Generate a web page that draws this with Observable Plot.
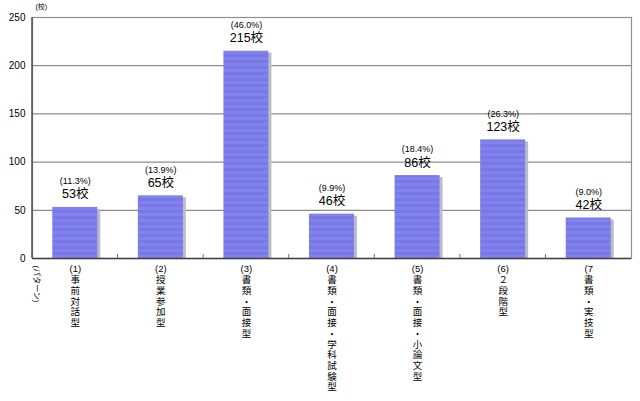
<!DOCTYPE html>
<html><head><meta charset="utf-8">
<script src="https://cdn.jsdelivr.net/npm/d3@7"></script>
<script src="https://cdn.jsdelivr.net/npm/@observablehq/plot@0.6"></script>
<style>
html,body{margin:0;padding:0;background:#fff;}
#chart{position:relative;width:640px;height:401px;}
</style>
</head><body><div id="chart"></div>
<script>
const ids = ["1","2","3","4","5","6","7"];
const headers = ["(1)","(2)","(3)","(4)","(5)","(6)","(7"];
const names = ["事前対話型","授業参加型","書類・面接型","書類・面接・学科試験型","書類・面接・小論文型","２段階型","書類・実技型"];
const counts = [53,65,215,46,86,123,42];
const percents = ["(11.3%)","(13.9%)","(46.0%)","(9.9%)","(18.4%)","(26.3%)","(9.0%)"];
const yTicks = [0,50,100,150,200,250];
const yTickLabels = ["0","50","100","150","200","250"];

const data = ids.map((id,i)=>({id, header: headers[i], name: names[i], count: counts[i], pct: percents[i],
  vlabel: names[i].split("").join("\n")}));
const yData = yTicks.map((v,i)=>({v, label: yTickLabels[i]}));

const font = "'Liberation Sans','Noto Sans CJK JP',sans-serif";

const chart = Plot.plot({
  width: 640, height: 401,
  marginLeft: 32, marginRight: 9, marginTop: 17, marginBottom: 143,
  style: {fontFamily: font, fontSize: "10px", background: "#fff", color: "#000"},
  x: {domain: ids, paddingInner: 0.474, paddingOuter: 0.237, round: false, axis: null},
  y: {domain: [0,250], ticks: yTicks, axis: null},
  marks: [
    Plot.ruleY(yTicks.filter(d=>d>0 && d<250), {stroke: "#707070", strokeWidth: 1, strokeOpacity: 1}),
    Plot.barY(data, {x: "id", y: "count", fill: "#bcbcc8", dx: 3, insetTop: 2}),
    Plot.barY(data, {x: "id", y: "count", fill: "url(#stripes)"}),
    Plot.frame({stroke: "#909090", strokeWidth: 1.2}),
    Plot.ruleY([0], {stroke: "#404040", strokeWidth: 1.5}),
    Plot.text(yData, {y: "v", text: "label", frameAnchor: "left", dx: -7, textAnchor: "end", fontSize: 10}),
    Plot.text(data, {x: "id", y: "count", dy: -13, fontSize: 12.5, text: d => d.count + "校"}),
    Plot.text(data, {x: "id", y: "count", text: "pct", dy: -26, fontSize: 9}),
    Plot.text(data, {x: "id", y: 0, text: "header", dy: 10, fontSize: 9.5, lineAnchor: "middle"}),
    Plot.text(data, {x: "id", y: 0, text: "vlabel", dy: 17, fontSize: 9.5, lineHeight: 1.13, lineAnchor: "top"}),
    Plot.text(["(パターン)"], {frameAnchor: "bottom-left", dx: 4, dy: 7, rotate: 90, textAnchor: "start", fontSize: 8, lineAnchor: "middle"}),
    Plot.text(["(校)"], {frameAnchor: "top-left", dx: 3, dy: -13, fontSize: 7, textAnchor: "start", lineAnchor: "top"})
  ]
});

const ns = "http://www.w3.org/2000/svg";
const defs = document.createElementNS(ns, "defs");
defs.innerHTML = `<pattern id="stripes" patternUnits="userSpaceOnUse" width="10" height="6">
  <rect width="10" height="6" fill="#7878e6"/>
  <rect y="3" width="10" height="3" fill="#8282ec"/>
</pattern>`;
chart.insertBefore(defs, chart.firstChild);

// left axis line and small boundary ticks, positioned from Plot's own scales
const xs = chart.scale("x"), ys = chart.scale("y");
const y0 = ys.apply(0), yTop = ys.apply(250);
const xLeft = xs.range[0];
const extra = document.createElementNS(ns, "g");
let html = `<line x1="${xLeft}" x2="${xLeft}" y1="${yTop}" y2="${y0}" stroke="#505050" stroke-width="1.5"/>`;
ids.slice(0, -1).forEach(id => {
  const xb = xs.apply(id) + xs.bandwidth / 2 + xs.step / 2;
  html += `<line x1="${xb}" x2="${xb}" y1="${y0}" y2="${y0 - 4}" stroke="#707070"/>`;
});
extra.innerHTML = html;
chart.appendChild(extra);

document.getElementById("chart").appendChild(chart);
</script>
</body></html>
